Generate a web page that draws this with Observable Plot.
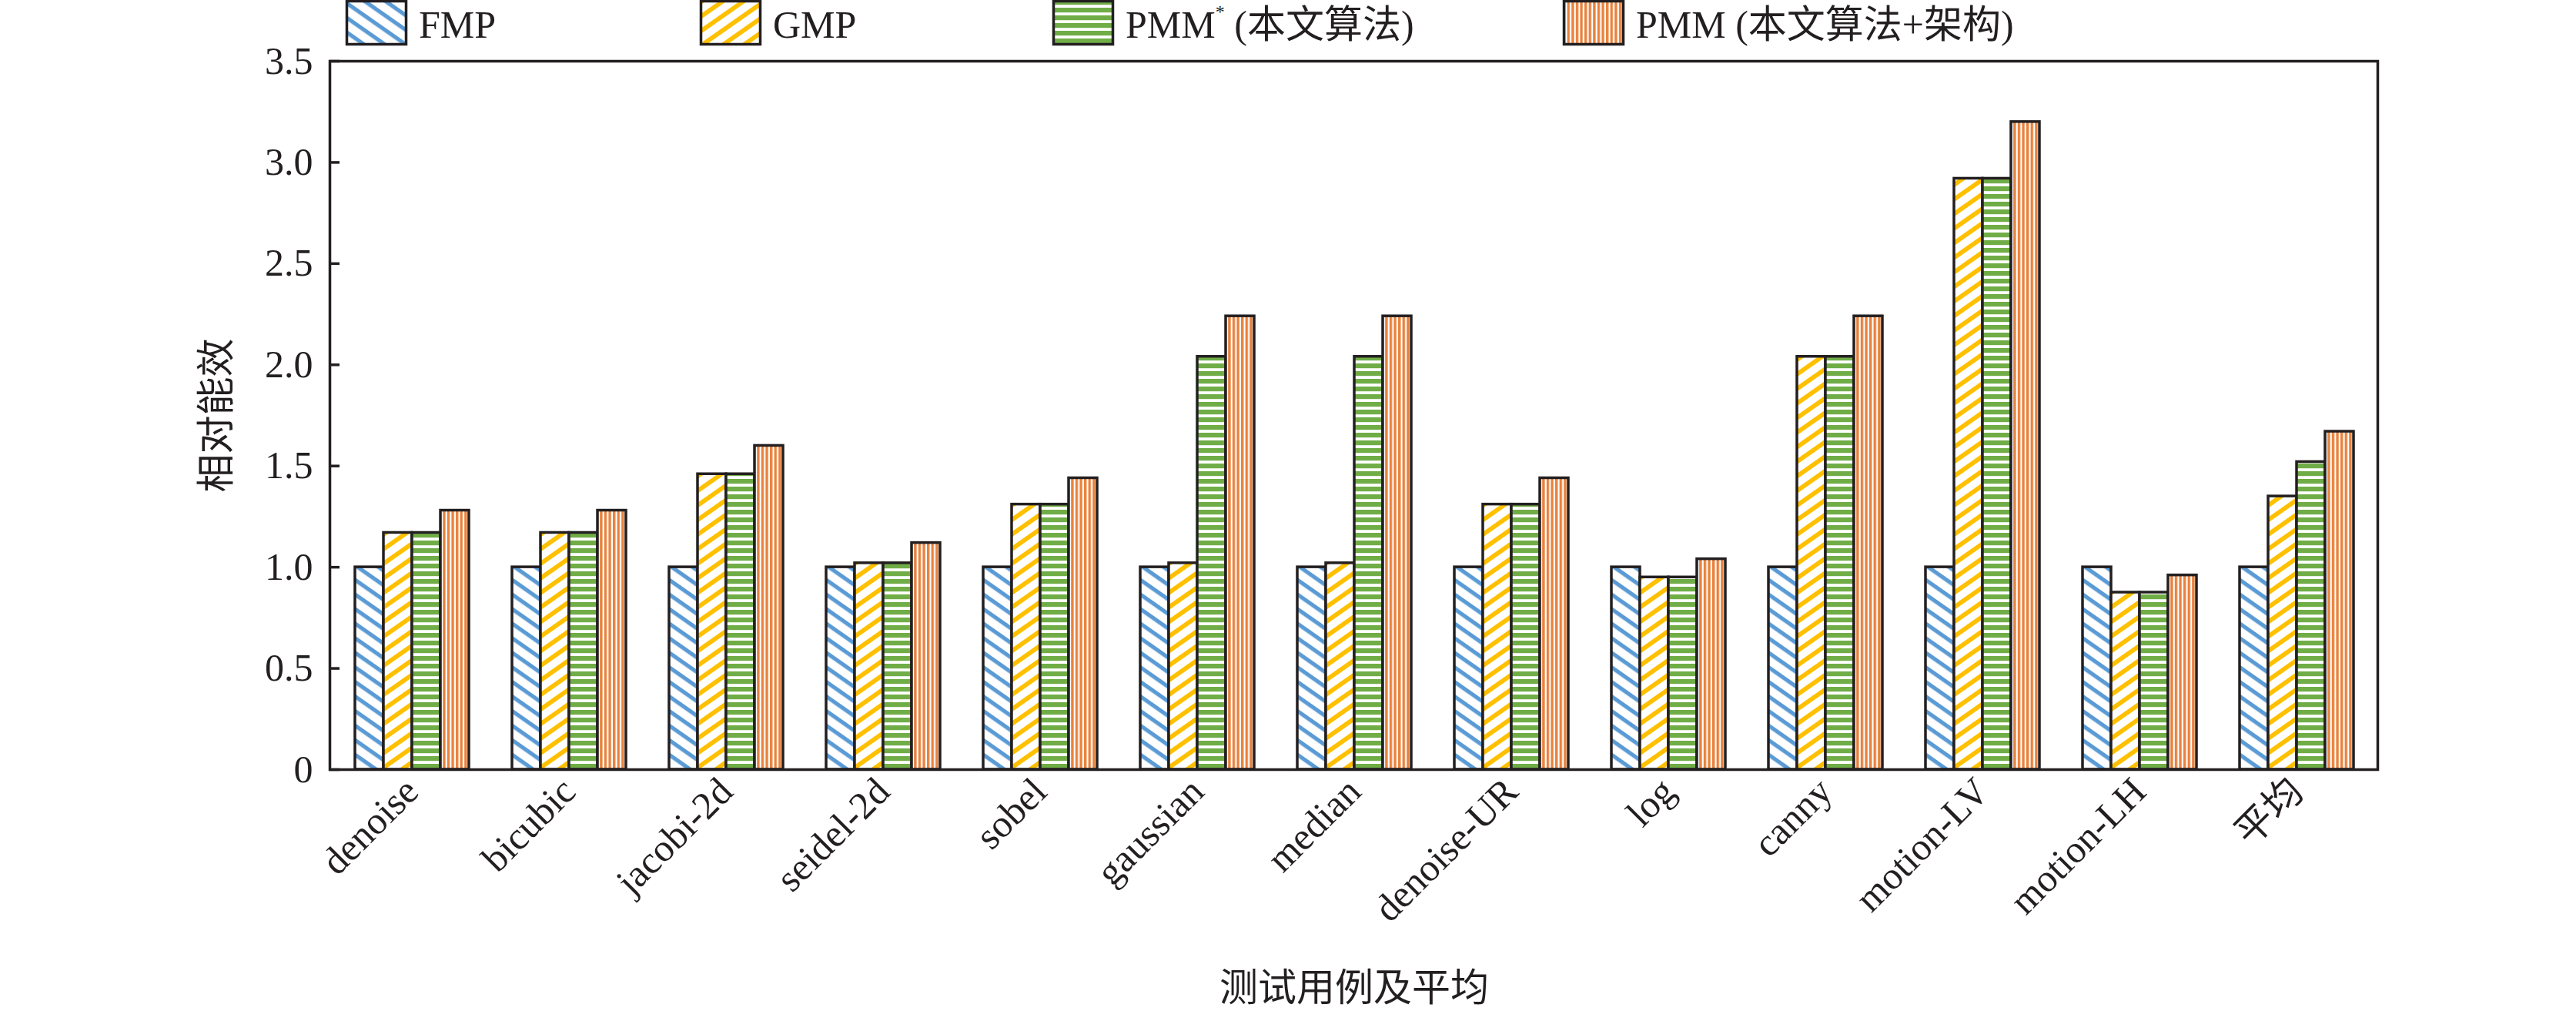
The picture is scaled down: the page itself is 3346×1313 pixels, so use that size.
<!DOCTYPE html>
<html>
<head>
<meta charset="utf-8">
<script src="https://cdn.jsdelivr.net/npm/d3@7"></script>
<script src="https://cdn.jsdelivr.net/npm/@observablehq/plot@0.6"></script>
<style>
  body { margin: 0; background: #fff; color: #231f20; font-family: 'Liberation Serif', 'Noto Sans CJK SC', serif; }
  #legend { position: relative; width: 3346px; height: 52px; z-index: 2; }
  .item { position: absolute; top: 0; height: 52px; }
  .item svg { position: absolute; left: 0; top: 0; overflow: visible; }
  .item span { position: absolute; left: 95px; top: 7px; font-size: 50px; line-height: 1; white-space: nowrap; }
  .item sup { font-size: 24px; vertical-align: 26px; line-height: 0; }
  #defs { position: absolute; width: 0; height: 0; }
  #chart { position: relative; width: 3346px; }
  #chart svg.overlay { position: absolute; left: 0; top: 0; }
</style>
</head>
<body>
<svg id="defs" width="0" height="0"></svg>
<div id="legend"></div>
<div id="chart"></div>
<script>
// ---- data ----
const categories = ["denoise", "bicubic", "jacobi-2d", "seidel-2d", "sobel", "gaussian", "median", "denoise-UR", "log", "canny", "motion-LV", "motion-LH", "平均"];
const series = ["FMP", "GMP", "PMM* (本文算法)", "PMM (本文算法+架构)"];
const fmp     = [1.00, 1.00, 1.00, 1.00, 1.00, 1.00, 1.00, 1.00, 1.00, 1.00, 1.00, 1.00, 1.00];
const gmp     = [1.17, 1.17, 1.46, 1.02, 1.31, 1.02, 1.02, 1.31, 0.95, 2.04, 2.92, 0.875, 1.35];
const pmmStar = [1.17, 1.17, 1.46, 1.02, 1.31, 2.04, 2.04, 1.31, 0.95, 2.04, 2.92, 0.875, 1.52];
const pmm     = [1.28, 1.28, 1.60, 1.12, 1.44, 2.24, 2.24, 1.44, 1.04, 2.24, 3.20, 0.96, 1.67];
const yTicks  = [0, 0.5, 1.0, 1.5, 2.0, 2.5, 3.0, 3.5];

const values = [fmp, gmp, pmmStar, pmm];
const data = categories.flatMap((c, i) => series.map((s, j) => ({cat: c, series: s, value: values[j][i]})));

// ---- hatch patterns ----
const patternIds = ["pFMP", "pGMP", "pPMMs", "pPMM"];
const ink = "#231f20";
const defs = d3.select("#defs").append("defs");
function stripes(id, color, period, thick, angle, vertical) {
  const p = defs.append("pattern").attr("id", id).attr("patternUnits", "userSpaceOnUse")
    .attr("width", period).attr("height", period);
  if (angle) p.attr("patternTransform", `rotate(${angle})`);
  p.append("rect").attr("width", period).attr("height", period).attr("fill", "#fff");
  if (vertical) p.append("rect").attr("width", thick).attr("height", period).attr("fill", color);
  else p.append("rect").attr("width", period).attr("height", thick).attr("fill", color);
}
stripes("pFMP", "#5b9bd5", 15.5, 5.2, 35, false);
stripes("pGMP", "#ffc000", 15.5, 5.8, -35, false);
stripes("pPMMs", "#70ad47", 10, 6.2, 0, false);
stripes("pPMM", "#e9823d", 5.6, 3.4, 0, true);

// ---- legend ----
const legendX = [449, 909, 1367, 2030];
const legend = d3.select("#legend");
series.forEach((s, i) => {
  const it = legend.append("div").attr("class", "item").style("left", legendX[i] + "px");
  const sw = it.append("svg").attr("width", 82).attr("height", 60);
  sw.append("rect").attr("x", 1.5).attr("y", 1.5).attr("width", 77).attr("height", 56)
    .attr("fill", `url(#${patternIds[i]})`).attr("stroke", ink).attr("stroke-width", 3.5);
  const sp = it.append("span");
  const star = s.indexOf("*");
  if (star >= 0) {
    sp.append("span").style("position", "static").text(s.slice(0, star));
    sp.append("sup").text("*");
    sp.append("span").style("position", "static").text(s.slice(star + 1));
  } else sp.text(s);
});

// ---- chart ----
const W = 3346, H = 1261;
const margins = {marginTop: 27, marginRight: 258, marginBottom: 314, marginLeft: 428};
const font = {fontFamily: "'Liberation Serif', 'Noto Sans CJK SC', serif", fontSize: "50px", color: ink};

const chart = Plot.plot({
  width: W, height: H, ...margins,
  style: {...font, background: "none"},
  fx: {domain: categories, paddingInner: 0.27, paddingOuter: 0.135, axis: null},
  x: {domain: series, padding: 0, axis: null},
  y: {domain: [0, 3.5], axis: null},
  color: {type: "ordinal", domain: series, range: patternIds.map(id => `url(#${id})`)},
  marks: [
    Plot.barY(data, {fx: "cat", x: "series", y: "value", fill: "series", stroke: ink, strokeWidth: 3.5}),
    Plot.axisFx({anchor: "bottom", tickRotate: -45, tickSize: 0, tickPadding: 20,
      label: "测试用例及平均", labelAnchor: "center", labelArrow: "none", labelOffset: 300})
  ]
});

// frame + y axis share the same y scale and margins, drawn over the bars
const overlay = Plot.plot({
  width: W, height: H, ...margins,
  style: {...font, background: "none"},
  y: {domain: [0, 3.5], axis: null},
  marks: [
    Plot.frame({stroke: ink, strokeWidth: 3.5}),
    Plot.axisY(yTicks, {anchor: "left", tickSize: -13, tickPadding: 35, strokeWidth: 3.5,
      tickFormat: d => d === 0 ? "0" : d.toFixed(1),
      label: "相对能效", labelAnchor: "center", labelArrow: "none", labelOffset: 166})
  ]
});
overlay.classList.add("overlay");
const box = document.getElementById("chart");
box.appendChild(chart);
box.appendChild(overlay);
</script>
</body>
</html>
